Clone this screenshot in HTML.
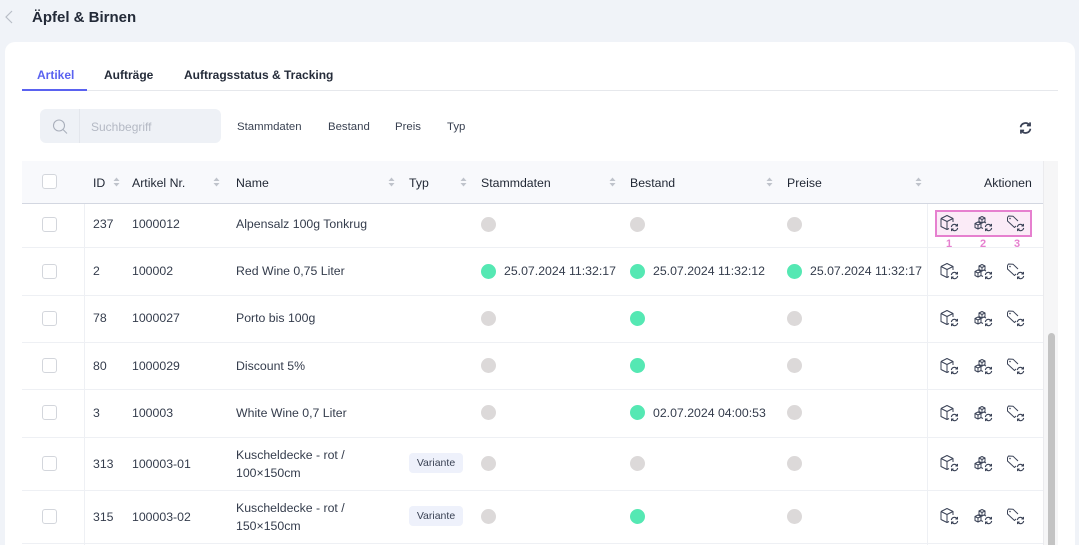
<!DOCTYPE html>
<html style="width:1079px;height:545px;overflow:hidden"><head><meta charset="utf-8">
<style>
*{margin:0;padding:0;box-sizing:border-box}
body{width:1079px;height:545px;overflow:hidden;background:#f0f3f8;font-family:"Liberation Sans",sans-serif;color:#2a3140;position:relative}
.a{position:absolute;white-space:nowrap}
.t{font-size:12.3px;line-height:14px;color:#343c4c}
.h{font-size:12.3px;line-height:14px;color:#1f2633}
.card{position:absolute;left:5px;top:42px;width:1070px;height:503px;background:#fff;border-radius:10px 10px 0 0}
.dot{position:absolute;width:15px;height:15px;border-radius:50%}
.g{background:#dcd9d9}.gr{background:#55e8b3}
.cb{position:absolute;left:42px;width:15px;height:15px;border:1px solid #d3d6dc;border-radius:3px;background:#fff}
.hl{position:absolute;left:22px;width:1021px;height:1px;background:#eef0f4}
.sort{position:absolute;width:7px;height:10px}
.badge{position:absolute;left:409px;width:54px;height:20px;background:#eef1fb;border-radius:4px;font-size:10.5px;line-height:20px;text-align:center;color:#3a4254}
.ic{position:absolute;width:22px;height:18px}
</style></head><body>
<svg width="0" height="0" style="position:absolute">
<defs>
<symbol id="sync" viewBox="0 0 8 8"><path d="M1.2 3.6a2.8 2.8 0 0 1 5-1.3M6.8 4.4a2.8 2.8 0 0 1-5 1.3" fill="none" stroke="#3a4256" stroke-width="1"/><path d="M6.6 0.8v1.8h-1.8M1.4 7.2V5.4h1.8" fill="none" stroke="#3a4256" stroke-width="1"/></symbol>
<symbol id="cube" viewBox="0 0 22 18"><path d="M2 4.5L8 1.5L14 4.5V8M2 4.5V12.5L8 15.5L10 14.5M2 4.5L8 7.5L14 4.5M8 7.5V15.5" fill="none" stroke="#3a4256" stroke-width="1" stroke-linejoin="round"/><use href="#sync" x="11" y="9" width="9" height="9"/></symbol>
<symbol id="cubes" viewBox="0 0 22 18"><path d="M6 4L9 2.5L12 4V7.5L9 9L6 7.5ZM6 4L9 5.5L12 4M9 5.5V9M2 9.5L5 8L8 9.5V13.5L5 15L2 13.5ZM2 9.5L5 11L8 9.5M5 11V15M8 9.5L11 8L13 9M8 13.5L10 14.5" fill="none" stroke="#3a4256" stroke-width="1" stroke-linejoin="round"/><use href="#sync" x="11" y="9" width="9" height="9"/></symbol>
<symbol id="tag" viewBox="0 0 22 18"><path d="M2.5 3.5L3.5 2L8 2.2L13 7M2.5 3.5L2.5 7L9.5 13.5L11 12" fill="none" stroke="#3a4256" stroke-width="1" stroke-linejoin="round"/><circle cx="5" cy="4.5" r="0.8" fill="#3a4256"/><use href="#sync" x="11" y="9" width="9" height="9"/></symbol>
<symbol id="srt" viewBox="0 0 7 10"><path d="M3.5 0.5L6.5 4H0.5Z M3.5 9.5L6.5 6H0.5Z" fill="#bfc3cb"/></symbol>
</defs></svg>

<!-- header -->
<svg class="a" style="left:4px;top:10px" width="10" height="14"><path d="M8 1L2 7L8 13" fill="none" stroke="#b8bdc7" stroke-width="1.2"/></svg>
<div class="a" style="left:32px;top:9px;font-size:15px;font-weight:bold;color:#232a38;line-height:18px">Äpfel &amp; Birnen</div>

<div class="card"></div>

<!-- tabs -->
<div class="a" style="left:37px;top:68px;font-size:12px;font-weight:bold;color:#5a62f0">Artikel</div>
<div class="a" style="left:104px;top:68px;font-size:12px;font-weight:bold;color:#252c3a">Aufträge</div>
<div class="a" style="left:184px;top:68px;font-size:12px;font-weight:bold;color:#252c3a">Auftragsstatus &amp; Tracking</div>
<div class="a" style="left:22px;top:90px;width:1036px;height:1px;background:#e6e8ec"></div>
<div class="a" style="left:22px;top:89px;width:65px;height:2px;background:#5a62f0"></div>

<!-- search -->
<div class="a" style="left:40px;top:109px;width:181px;height:34px;background:#eef1f6;border-radius:6px"></div>
<div class="a" style="left:79px;top:109px;width:1px;height:34px;background:#e3e6ec"></div>
<svg class="a" style="left:51px;top:118px" width="18" height="18"><circle cx="8" cy="7.5" r="5.5" fill="none" stroke="#a9afbb" stroke-width="1.1"/><path d="M12 11.5L16 15.5" stroke="#a9afbb" stroke-width="1.1"/></svg>
<div class="a" style="left:91px;top:120px;font-size:12px;color:#b4b9c4">Suchbegriff</div>
<div class="a" style="left:237px;top:121px;font-size:11.4px;color:#3a4252">Stammdaten</div>
<div class="a" style="left:328px;top:121px;font-size:11.4px;color:#3a4252">Bestand</div>
<div class="a" style="left:395px;top:121px;font-size:11.4px;color:#3a4252">Preis</div>
<div class="a" style="left:447px;top:121px;font-size:11.4px;color:#3a4252">Typ</div>
<svg class="a" style="left:1018px;top:121px" width="15" height="14" viewBox="0 0 8 8"><use href="#sync" width="8" height="8"/></svg>

<!-- table header -->
<div class="a" style="left:22px;top:161px;width:1021px;height:42px;background:#f8f9fc"></div>
<div class="a" style="left:22px;top:203px;width:1021px;height:1px;background:#d3d7e1"></div>
<div class="a" style="left:1043px;top:161px;width:15px;height:384px;background:#f6f6f7;border-left:1px solid #ebebee"></div>
<div class="a" style="left:1048px;top:333px;width:7px;height:220px;background:#c3c3c3;border-radius:4px"></div>

<div class="cb" style="top:174px"></div>
<div class="a h" style="left:93px;top:176px">ID</div><svg class="sort" style="left:113px;top:177px"><use href="#srt" width="7" height="10"/></svg>
<div class="a h" style="left:132px;top:176px">Artikel Nr.</div><svg class="sort" style="left:213px;top:177px"><use href="#srt" width="7" height="10"/></svg>
<div class="a h" style="left:236px;top:176px">Name</div><svg class="sort" style="left:388px;top:177px"><use href="#srt" width="7" height="10"/></svg>
<div class="a h" style="left:409px;top:176px">Typ</div><svg class="sort" style="left:460px;top:177px"><use href="#srt" width="7" height="10"/></svg>
<div class="a h" style="left:481px;top:176px">Stammdaten</div><svg class="sort" style="left:609px;top:177px"><use href="#srt" width="7" height="10"/></svg>
<div class="a h" style="left:630px;top:176px">Bestand</div><svg class="sort" style="left:766px;top:177px"><use href="#srt" width="7" height="10"/></svg>
<div class="a h" style="left:787px;top:176px">Preise</div><svg class="sort" style="left:915px;top:177px"><use href="#srt" width="7" height="10"/></svg>
<div class="a h" style="left:984px;top:176px">Aktionen</div>

<!-- grid lines -->
<div class="a" style="left:84px;top:204px;width:1px;height:341px;background:#eef0f4"></div>
<div class="a" style="left:927px;top:204px;width:1px;height:341px;background:#eef0f4"></div>
<div class="hl" style="top:247px"></div>
<div class="hl" style="top:295px"></div>
<div class="hl" style="top:342px"></div>
<div class="hl" style="top:389px"></div>
<div class="hl" style="top:437px"></div>
<div class="hl" style="top:490px"></div>
<div class="hl" style="top:543px"></div>

<!-- row 1 -->
<div class="cb" style="top:217px"></div>
<div class="a t" style="left:93px;top:217px">237</div>
<div class="a t" style="left:132px;top:217px">1000012</div>
<div class="a t" style="left:236px;top:217px">Alpensalz 100g Tonkrug</div>
<div class="dot g" style="left:481px;top:217px"></div>
<div class="dot g" style="left:630px;top:217px"></div>
<div class="dot g" style="left:787px;top:217px"></div>
<div class="a" style="left:935px;top:210px;width:97px;height:27px;background:#fbebf7;border:2px solid #e680cf"></div>
<svg class="ic" style="left:939px;top:214px"><use href="#cube" width="22" height="18"/></svg>
<svg class="ic" style="left:973px;top:214px"><use href="#cubes" width="22" height="18"/></svg>
<svg class="ic" style="left:1005px;top:214px"><use href="#tag" width="22" height="18"/></svg>
<div class="a" style="left:946px;top:238px;font-size:11px;font-weight:bold;color:#e680cf">1</div>
<div class="a" style="left:980px;top:238px;font-size:11px;font-weight:bold;color:#e680cf">2</div>
<div class="a" style="left:1014px;top:238px;font-size:11px;font-weight:bold;color:#e680cf">3</div>

<!-- row 2 -->
<div class="cb" style="top:264px"></div>
<div class="a t" style="left:93px;top:264px">2</div>
<div class="a t" style="left:132px;top:264px">100002</div>
<div class="a t" style="left:236px;top:264px">Red Wine 0,75 Liter</div>
<div class="dot gr" style="left:481px;top:264px"></div><div class="a t" style="left:504px;top:264px">25.07.2024 11:32:17</div>
<div class="dot gr" style="left:630px;top:264px"></div><div class="a t" style="left:653px;top:264px">25.07.2024 11:32:12</div>
<div class="dot gr" style="left:787px;top:264px"></div><div class="a t" style="left:810px;top:264px">25.07.2024 11:32:17</div>
<svg class="ic" style="left:939px;top:262px"><use href="#cube" width="22" height="18"/></svg>
<svg class="ic" style="left:973px;top:262px"><use href="#cubes" width="22" height="18"/></svg>
<svg class="ic" style="left:1005px;top:262px"><use href="#tag" width="22" height="18"/></svg>

<!-- row 3 -->
<div class="cb" style="top:311px"></div>
<div class="a t" style="left:93px;top:311px">78</div>
<div class="a t" style="left:132px;top:311px">1000027</div>
<div class="a t" style="left:236px;top:311px">Porto bis 100g</div>
<div class="dot g" style="left:481px;top:311px"></div>
<div class="dot gr" style="left:630px;top:311px"></div>
<div class="dot g" style="left:787px;top:311px"></div>
<svg class="ic" style="left:939px;top:309px"><use href="#cube" width="22" height="18"/></svg>
<svg class="ic" style="left:973px;top:309px"><use href="#cubes" width="22" height="18"/></svg>
<svg class="ic" style="left:1005px;top:309px"><use href="#tag" width="22" height="18"/></svg>

<!-- row 4 -->
<div class="cb" style="top:358px"></div>
<div class="a t" style="left:93px;top:359px">80</div>
<div class="a t" style="left:132px;top:359px">1000029</div>
<div class="a t" style="left:236px;top:359px">Discount 5%</div>
<div class="dot g" style="left:481px;top:358px"></div>
<div class="dot gr" style="left:630px;top:358px"></div>
<div class="dot g" style="left:787px;top:358px"></div>
<svg class="ic" style="left:939px;top:357px"><use href="#cube" width="22" height="18"/></svg>
<svg class="ic" style="left:973px;top:357px"><use href="#cubes" width="22" height="18"/></svg>
<svg class="ic" style="left:1005px;top:357px"><use href="#tag" width="22" height="18"/></svg>

<!-- row 5 -->
<div class="cb" style="top:405px"></div>
<div class="a t" style="left:93px;top:406px">3</div>
<div class="a t" style="left:132px;top:406px">100003</div>
<div class="a t" style="left:236px;top:406px">White Wine 0,7 Liter</div>
<div class="dot g" style="left:481px;top:405px"></div>
<div class="dot gr" style="left:630px;top:405px"></div><div class="a t" style="left:653px;top:406px">02.07.2024 04:00:53</div>
<div class="dot g" style="left:787px;top:405px"></div>
<svg class="ic" style="left:939px;top:404px"><use href="#cube" width="22" height="18"/></svg>
<svg class="ic" style="left:973px;top:404px"><use href="#cubes" width="22" height="18"/></svg>
<svg class="ic" style="left:1005px;top:404px"><use href="#tag" width="22" height="18"/></svg>

<!-- row 6 -->
<div class="cb" style="top:456px"></div>
<div class="a t" style="left:93px;top:457px">313</div>
<div class="a t" style="left:132px;top:457px">100003-01</div>
<div class="a t" style="left:236px;top:448px">Kuscheldecke - rot /</div>
<div class="a t" style="left:236px;top:466px">100×150cm</div>
<div class="badge" style="top:453px">Variante</div>
<div class="dot g" style="left:481px;top:456px"></div>
<div class="dot g" style="left:630px;top:456px"></div>
<div class="dot g" style="left:787px;top:456px"></div>
<svg class="ic" style="left:939px;top:454px"><use href="#cube" width="22" height="18"/></svg>
<svg class="ic" style="left:973px;top:454px"><use href="#cubes" width="22" height="18"/></svg>
<svg class="ic" style="left:1005px;top:454px"><use href="#tag" width="22" height="18"/></svg>

<!-- row 7 -->
<div class="cb" style="top:509px"></div>
<div class="a t" style="left:93px;top:510px">315</div>
<div class="a t" style="left:132px;top:510px">100003-02</div>
<div class="a t" style="left:236px;top:501px">Kuscheldecke - rot /</div>
<div class="a t" style="left:236px;top:519px">150×150cm</div>
<div class="badge" style="top:506px">Variante</div>
<div class="dot g" style="left:481px;top:509px"></div>
<div class="dot gr" style="left:630px;top:509px"></div>
<div class="dot g" style="left:787px;top:509px"></div>
<svg class="ic" style="left:939px;top:507px"><use href="#cube" width="22" height="18"/></svg>
<svg class="ic" style="left:973px;top:507px"><use href="#cubes" width="22" height="18"/></svg>
<svg class="ic" style="left:1005px;top:507px"><use href="#tag" width="22" height="18"/></svg>
</body></html>
